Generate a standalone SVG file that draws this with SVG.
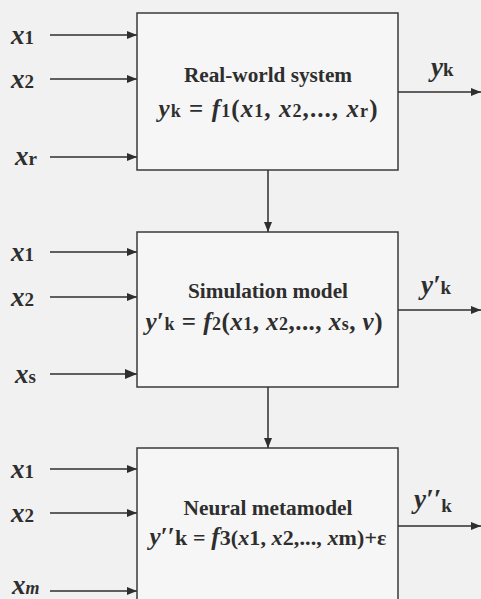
<svg xmlns="http://www.w3.org/2000/svg" width="481" height="599" viewBox="0 0 481 599">
<defs>
<marker id="ah" viewBox="0 0 10 8" refX="10" refY="4" markerWidth="10" markerHeight="8" markerUnits="userSpaceOnUse" orient="auto">
<path d="M0,0 L10,4 L0,8 Z" fill="#2e2e2e"/>
</marker>
<marker id="ahb" viewBox="0 0 12 10" refX="12" refY="5" markerWidth="12" markerHeight="10" markerUnits="userSpaceOnUse" orient="auto">
<path d="M0,0 L12,5 L0,10 Z" fill="#2e2e2e"/>
</marker>
</defs>
<style>
.box{fill:#f6f6f6;stroke:#3a3a3a;stroke-width:1.5}
.ln{stroke:#2e2e2e;stroke-width:1.5;fill:none}
text{font-weight:bold;fill:#2e2e2e}
.title{font-size:20px}
.v{font-style:italic;font-size:27px}
.s{font-style:normal;font-size:19px}
.f{font-size:25px}
.fv{font-style:italic}
.fs{font-size:18px}
</style>
<rect width="481" height="599" fill="#f1f1f1"/>
<g id="connectors">
<line class="ln" x1="50" y1="35" x2="137" y2="35" marker-end="url(#ah)"/>
<line class="ln" x1="50" y1="79" x2="137" y2="79" marker-end="url(#ah)"/>
<line class="ln" x1="50" y1="157" x2="137" y2="157" marker-end="url(#ah)"/>
<line class="ln" x1="398" y1="92" x2="481" y2="92" marker-end="url(#ah)"/>
<line class="ln" x1="268" y1="170" x2="268" y2="232" marker-end="url(#ah)"/>
<line class="ln" x1="50" y1="252" x2="137" y2="252" marker-end="url(#ah)"/>
<line class="ln" x1="50" y1="297" x2="137" y2="297" marker-end="url(#ah)"/>
<line class="ln" x1="50" y1="374" x2="137" y2="374" stroke-width="2.5" marker-end="url(#ahb)"/>
<line class="ln" x1="398" y1="310" x2="481" y2="310" marker-end="url(#ah)"/>
<line class="ln" x1="268" y1="387" x2="268" y2="448" marker-end="url(#ah)"/>
<line class="ln" x1="50" y1="469" x2="137" y2="469" marker-end="url(#ah)"/>
<line class="ln" x1="50" y1="513" x2="137" y2="513" marker-end="url(#ah)"/>
<line class="ln" x1="50" y1="591" x2="137" y2="591" marker-end="url(#ah)"/>
<line class="ln" x1="398" y1="526" x2="481" y2="526" marker-end="url(#ah)"/>
</g>
<g font-family="Liberation Serif, Tinos, Times New Roman, Times, DejaVu Serif, serif">
<g id="inputs">
<text class="v" x="11" y="44">x<tspan class="s">1</tspan></text>
<text class="v" x="11" y="88">x<tspan class="s">2</tspan></text>
<text class="v" x="15" y="165">x<tspan class="s">r</tspan></text>
<text class="v" x="11" y="261">x<tspan class="s">1</tspan></text>
<text class="v" x="11" y="306">x<tspan class="s">2</tspan></text>
<text class="v" x="15" y="383">x<tspan class="s">s</tspan></text>
<text class="v" x="11" y="478">x<tspan class="s">1</tspan></text>
<text class="v" x="11" y="522">x<tspan class="s">2</tspan></text>
<text class="v" x="12" y="594">x<tspan font-size="18px">m</tspan></text>
</g>
<g id="outputs">
<text class="v" x="431" y="76" font-size="25px">y<tspan class="s">k</tspan></text>
<text class="v" x="421" y="294" font-size="25px">y<tspan>′</tspan><tspan class="s">k</tspan></text>
<text class="v" x="414" y="508" font-size="25px">y<tspan>′′</tspan><tspan class="s" dy="4">k</tspan></text>
</g>
<g id="real-world-system">
<rect class="box" x="137" y="13" width="261" height="157"/>
<text class="title" x="268" y="82" text-anchor="middle" textLength="168" lengthAdjust="spacingAndGlyphs">Real-world system</text>
<text class="f" x="268" y="117" text-anchor="middle" textLength="219" lengthAdjust="spacing"><tspan class="fv">y</tspan><tspan class="fs">k</tspan> = <tspan class="fv">f</tspan><tspan class="fs">1</tspan>(<tspan class="fv">x</tspan><tspan class="fs">1</tspan>, <tspan class="fv">x</tspan><tspan class="fs">2</tspan>,..., <tspan class="fv">x</tspan><tspan class="fs">r</tspan>)</text>
</g>
<g id="simulation-model">
<rect class="box" x="137" y="232" width="261" height="155"/>
<text class="title" x="268" y="298" text-anchor="middle" textLength="160" lengthAdjust="spacingAndGlyphs">Simulation model</text>
<text class="f" x="264" y="330" text-anchor="middle" textLength="237" lengthAdjust="spacing"><tspan class="fv">y</tspan>′<tspan class="fs">k</tspan> = <tspan class="fv">f</tspan><tspan class="fs">2</tspan>(<tspan class="fv">x</tspan><tspan class="fs">1</tspan>, <tspan class="fv">x</tspan><tspan class="fs">2</tspan>,..., <tspan class="fv">x</tspan><tspan class="fs">s</tspan>, <tspan class="fv">v</tspan>)</text>
</g>
<g id="neural-metamodel">
<rect class="box" x="137" y="448" width="261" height="170"/>
<text class="title" x="268" y="515" text-anchor="middle" textLength="169" lengthAdjust="spacingAndGlyphs">Neural metamodel</text>
<text x="268" y="545" text-anchor="middle" font-size="22px" textLength="237" lengthAdjust="spacing"><tspan class="fv" font-size="25px">y</tspan><tspan font-size="25px">′′</tspan>k = <tspan class="fv" font-size="25px">f</tspan>3(<tspan class="fv">x</tspan>1, <tspan class="fv">x</tspan>2,..., <tspan class="fv">x</tspan>m)+ε</text>
</g>
</g>
</svg>
